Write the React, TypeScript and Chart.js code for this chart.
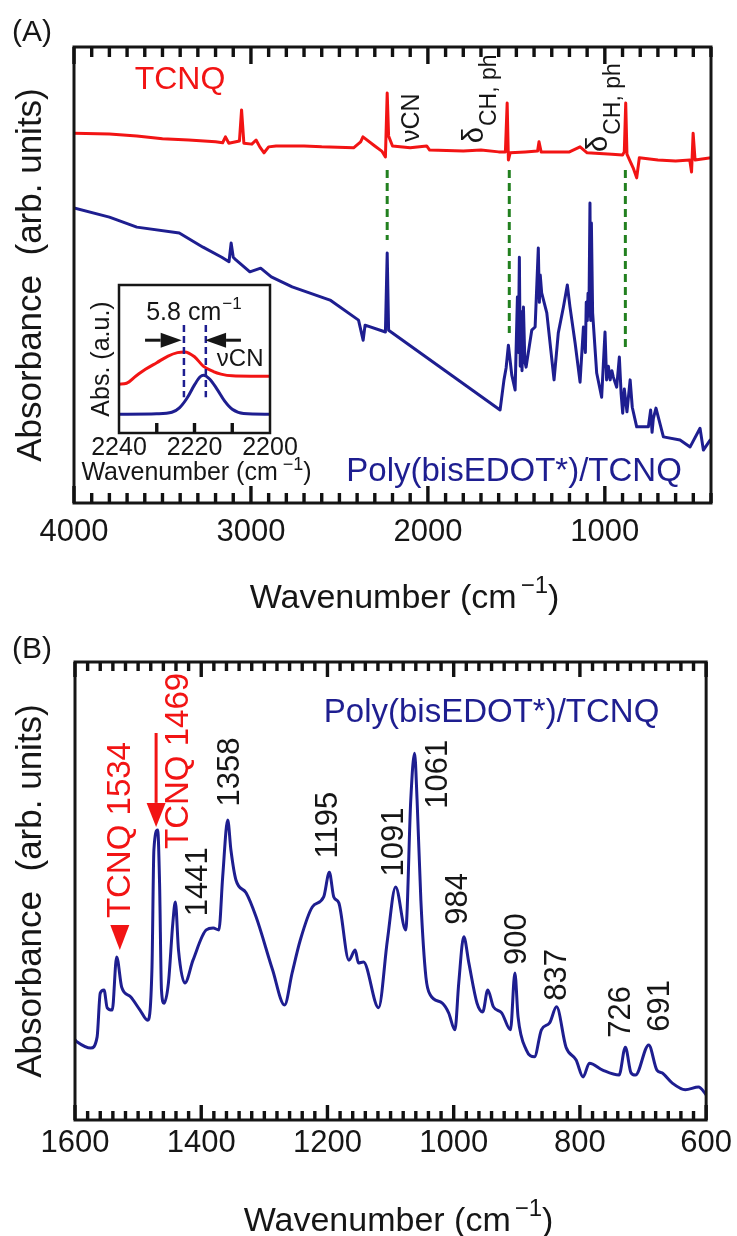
import React, { useEffect, useRef } from 'react';
import { Chart, registerables } from 'chart.js';

Chart.register(...registerables);

const FONT = '"Liberation Sans", Arial, Helvetica, sans-serif';
const INK = '#161616';
const RED = '#f21414';
const BLUE = '#1e1e90';
const GREEN = '#22801f';

// ---------- Panel (A): full range ----------
const tcnqWaveA = [4000, 3800, 3645, 3500, 3352, 3200, 3160, 3144, 3125, 3065, 3053, 3040, 2995, 2971, 2950, 2926, 2900, 2858, 2700, 2600, 2420, 2380, 2367, 2300, 2259, 2240, 2230, 2222, 2200, 2100, 2007, 1990, 1800, 1700, 1600, 1562, 1552, 1545, 1535, 1450, 1380, 1372, 1360, 1200, 1140, 1100, 960, 900, 890, 882, 875, 860, 840, 820, 805, 700, 600, 520, 510, 501, 490, 400];
const tcnqAbsA = [81.1, 80.9, 80.5, 79.9, 79.6, 79.2, 79.0, 80.3, 78.9, 79.4, 86.2, 78.9, 78.7, 79.6, 78.1, 76.8, 78.1, 78.3, 78.3, 78.1, 77.9, 79.2, 80.3, 78.3, 77.1, 75.9, 89.9, 80.5, 78.3, 77.9, 78.3, 77.4, 77.2, 77.4, 77.0, 77.0, 87.7, 75.2, 76.8, 77.0, 77.2, 79.2, 77.0, 77.0, 78.1, 76.8, 76.5, 76.3, 77.0, 87.7, 76.5, 75.2, 73.5, 71.3, 75.7, 75.2, 75.0, 75.2, 72.6, 81.1, 75.2, 75.7];
const polyWaveA = [4000, 3800, 3645, 3405, 3271, 3165, 3124, 3112, 3100, 3085, 3006, 2945, 2885, 2767, 2553, 2392, 2366, 2355, 2240, 2230, 2222, 1592, 1570, 1558, 1545, 1526, 1507, 1494, 1489, 1483, 1478, 1473, 1468, 1460, 1452, 1445, 1413, 1394, 1376, 1370, 1365, 1357, 1328, 1287, 1263, 1234, 1212, 1197, 1168, 1140, 1121, 1110, 1105, 1099, 1095, 1090, 1084, 1080, 1076, 1069, 1046, 1018, 999, 990, 980, 970, 960, 952, 933, 918, 908, 899, 890, 875, 857, 845, 820, 754, 741, 733, 726, 711, 669, 575, 518, 462, 443, 405];
const polyAbsA = [64.7, 62.7, 60.5, 59.2, 56.1, 53.9, 52.9, 57.0, 53.9, 53.3, 50.7, 51.5, 49.6, 47.4, 44.5, 40.1, 35.7, 39.0, 37.5, 54.8, 37.9, 20.4, 27.0, 29.6, 34.6, 28.1, 24.8, 45.2, 33.0, 53.9, 30.0, 42.0, 29.0, 43.0, 31.0, 29.8, 37.9, 38.6, 55.9, 44.0, 50.0, 46.1, 41.7, 27.0, 37.3, 43.0, 47.8, 43.0, 35.1, 26.5, 38.6, 33.0, 44.0, 40.0, 46.0, 41.0, 65.8, 40.0, 61.4, 41.7, 28.5, 23.2, 37.5, 27.0, 30.0, 27.0, 29.0, 27.6, 25.4, 32.0, 24.0, 19.7, 25.0, 20.0, 27.0, 21.0, 16.7, 16.7, 20.4, 15.5, 18.5, 20.8, 14.5, 13.8, 12.3, 16.4, 11.6, 13.8];
const tickValuesA = Array.from({ length: 37 }, (_, i) => 400 + i * 100); // tick marks every 100 cm-1

const markerWaveA = [2230, 1540, 884];
const markerFromA = [73.0, 73.0, 73.0];
const markerToA = [57.7, 37.3, 34.2];

const deltaWaveA = [1688, 988.5];
const deltaAbsA = [78.9, 77.0];

// ---------- Panel (B): fingerprint region ----------
const polyWaveB = [1600, 1597, 1575, 1565, 1560, 1554, 1549, 1541, 1534, 1526, 1512, 1497, 1485, 1478, 1475, 1469, 1466, 1463, 1459, 1452, 1445, 1441, 1436, 1426, 1413, 1392, 1381, 1372, 1366, 1358, 1353, 1345, 1329, 1313, 1287, 1268, 1256, 1243, 1224, 1206, 1197, 1190, 1182, 1166, 1156, 1151, 1143, 1119, 1105, 1092, 1076, 1068, 1062, 1058, 1052, 1044, 1037, 1018, 1008, 998, 992, 984, 976, 963, 954, 946, 937, 924, 910, 903, 898, 885, 872, 861, 848, 837, 822, 806, 795, 785, 764, 738, 728, 719, 712, 691, 678, 670, 654, 633, 612, 602, 600];
const polyAbsB = [17.5, 17.1, 15.7, 18.1, 27.7, 28.4, 24.5, 24.0, 35.6, 29.0, 26.9, 24.0, 21.8, 33.4, 59.0, 63.3, 51.7, 28.4, 25.5, 29.9, 43.0, 47.6, 37.1, 29.9, 34.9, 41.5, 41.9, 41.5, 53.1, 65.5, 59.0, 52.4, 49.6, 44.3, 32.8, 25.1, 32.1, 39.3, 46.5, 48.7, 54.1, 48.7, 47.4, 34.9, 37.1, 34.3, 34.5, 24.5, 39.3, 50.9, 41.5, 69.9, 80.1, 69.9, 48.0, 31.2, 27.3, 25.5, 23.4, 19.7, 29.9, 40.0, 34.3, 25.5, 23.6, 28.4, 24.7, 23.4, 19.7, 32.1, 22.5, 15.3, 13.8, 19.7, 21.2, 24.7, 15.9, 13.1, 9.4, 12.4, 10.9, 9.8, 15.9, 10.3, 9.8, 16.4, 10.9, 10.3, 8.1, 6.6, 7.2, 5.9, 5.5];
const tickValuesB = Array.from({ length: 51 }, (_, i) => 600 + i * 20); // tick marks every 20 cm-1

const peakText = ['1441', '1358', '1195', '1091', '1061', '984', '900', '837', '726', '691'];
const peakTextWave = [1405, 1354, 1198, 1094, 1024.5, 992, 899.5, 835, 734, 672];
const peakTextAbs = [52.0, 76.0, 64.4, 60.7, 75.5, 48.3, 39.5, 31.7, 23.6, 24.9];

const tcnqMarkText = ['TCNQ 1534', 'TCNQ 1469'];
const tcnqMarkTextWave = [1527, 1435];
const tcnqMarkTextAbs = [63.3, 78.4];

// ---------- Inset: nu(CN) band ----------
const insetTcnqWave = [2240, 2238, 2235.5, 2233, 2230, 2227, 2224.5, 2222.6, 2220, 2217.6, 2215, 2213, 2210, 2205, 2200];
const insetTcnqAbs = [33.0, 33.6, 38.5, 43.0, 47.5, 52.0, 54.3, 54.8, 51.5, 45.0, 41.5, 39.8, 38.6, 38.4, 38.4];
const insetPolyWave = [2240, 2230, 2226, 2224, 2222, 2220, 2218.5, 2217.6, 2216, 2214, 2212, 2210, 2207, 2200];
const insetPolyAbs = [12.7, 13.0, 14.0, 17.0, 23.5, 32.5, 38.0, 39.1, 36.5, 29.5, 21.5, 16.0, 13.2, 12.7];
const insetPeakWave = [2222.8, 2217.0];
const tickValuesInset = [2210, 2220, 2230];

const pairs = (xs: number[], ys: number[]) => xs.map((x, i) => ({ x, y: ys[i] }));

function drawText(ctx: CanvasRenderingContext2D, s: string, x: number, y: number, size: number, color: string, rot = 0, align: CanvasTextAlign = 'center') {
  ctx.save();
  ctx.font = `${size}px ${FONT}`;
  ctx.fillStyle = color;
  ctx.textAlign = align;
  ctx.textBaseline = 'middle';
  ctx.translate(x, y);
  if (rot) ctx.rotate(rot);
  ctx.fillText(s, 0, 0);
  ctx.restore();
}

function drawSupText(ctx: CanvasRenderingContext2D, main: string, sup: string, tail: string, cx: number, baseline: number, size: number, supSize: number, raise: number, gap: number) {
  ctx.save();
  ctx.fillStyle = INK;
  ctx.textAlign = 'left';
  ctx.textBaseline = 'alphabetic';
  ctx.font = `${size}px ${FONT}`;
  const wm = ctx.measureText(main).width;
  const wt = ctx.measureText(tail).width;
  ctx.font = `${supSize}px ${FONT}`;
  const ws = ctx.measureText(sup).width;
  const x0 = cx - (wm + gap + ws + wt) / 2;
  ctx.font = `${size}px ${FONT}`;
  ctx.fillText(main, x0, baseline);
  ctx.font = `${supSize}px ${FONT}`;
  ctx.fillText(sup, x0 + wm + gap, baseline - raise);
  ctx.font = `${size}px ${FONT}`;
  ctx.fillText(tail, x0 + wm + gap + ws, baseline);
  ctx.restore();
}

// Inward tick marks positioned through the x scale.
function drawTicks(chart: any, values: number[], major: number, majorLen: number, minorLen: number, top: boolean) {
  const ctx: CanvasRenderingContext2D = chart.ctx;
  const area = chart.chartArea;
  const scale = chart.scales.x;
  ctx.save();
  ctx.fillStyle = '#111111';
  for (let i = 0; i < values.length; i++) {
    const v = values[i];
    const px = scale.getPixelForValue(v);
    const len = v % major === 0 ? majorLen : minorLen;
    ctx.fillRect(px - 1.7, area.bottom - len, 3.4, len);
    if (top) ctx.fillRect(px - 1.7, area.top, 3.4, len);
  }
  ctx.restore();
}

function drawBox(chart: any, frameWidth: number) {
  const ctx: CanvasRenderingContext2D = chart.ctx;
  const area = chart.chartArea;
  ctx.save();
  ctx.strokeStyle = INK;
  ctx.lineWidth = frameWidth;
  ctx.strokeRect(area.left, area.top, area.right - area.left, area.bottom - area.top);
  ctx.restore();
}

function xScale(min: number, max: number, step: number, labelEvery: number, size: number, pad: number, height: number) {
  return {
    type: 'linear',
    min,
    max,
    reverse: true,
    afterFit: (s: any) => { s.height = height; },
    grid: { display: false, drawTicks: false, tickLength: 0 },
    border: { display: false },
    ticks: {
      stepSize: step,
      autoSkip: false,
      maxRotation: 0,
      minRotation: 0,
      padding: pad,
      color: INK,
      font: { family: FONT, size },
      callback: (v: any) => (Math.round(Number(v)) % labelEvery === 0 ? String(Math.round(Number(v))) : ''),
    },
  };
}

function yScale(width: number, text: string, size: number, padTop: number) {
  return {
    type: 'linear',
    min: 0,
    max: 100,
    afterFit: (s: any) => { s.width = width; },
    ticks: { display: false },
    grid: { display: false, drawTicks: false },
    border: { display: false },
    title: { display: true, text, color: INK, font: { family: FONT, size }, padding: { top: padTop, bottom: 0 } },
  };
}

function line(data: { x: number; y: number }[], color: string, width: number, smooth = false) {
  return {
    data,
    borderColor: color,
    borderWidth: width,
    pointRadius: 0,
    fill: false,
    tension: 0,
    cubicInterpolationMode: smooth ? 'monotone' : 'default',
    borderJoinStyle: 'round',
    borderCapStyle: 'round',
  };
}

const baseOptions = {
  responsive: false,
  animation: false,
  devicePixelRatio: 1,
  events: [],
  plugins: { legend: { display: false }, tooltip: { enabled: false }, title: { display: false } },
};

function vArrow(ctx: CanvasRenderingContext2D, x: number, yFrom: number, yTip: number, head: number, half: number, color: string, lw: number) {
  const dir = Math.sign(yTip - yFrom);
  ctx.save();
  ctx.strokeStyle = color;
  ctx.fillStyle = color;
  ctx.lineWidth = lw;
  ctx.beginPath();
  ctx.moveTo(x, yFrom);
  ctx.lineTo(x, yTip - dir * head);
  ctx.stroke();
  ctx.beginPath();
  ctx.moveTo(x, yTip);
  ctx.lineTo(x - half, yTip - dir * head);
  ctx.lineTo(x + half, yTip - dir * head);
  ctx.closePath();
  ctx.fill();
  ctx.restore();
}

function hArrow(ctx: CanvasRenderingContext2D, xFrom: number, xTip: number, y: number, head: number, half: number, color: string, lw: number) {
  const dir = Math.sign(xTip - xFrom);
  ctx.save();
  ctx.strokeStyle = color;
  ctx.fillStyle = color;
  ctx.lineWidth = lw;
  ctx.beginPath();
  ctx.moveTo(xFrom, y);
  ctx.lineTo(xTip - dir * head, y);
  ctx.stroke();
  ctx.beginPath();
  ctx.moveTo(xTip, y);
  ctx.lineTo(xTip - dir * head, y - half);
  ctx.lineTo(xTip - dir * head, y + half);
  ctx.closePath();
  ctx.fill();
  ctx.restore();
}

const decorA = {
  id: 'decorA',
  afterDatasetsDraw(chart: any) {
    const { ctx } = chart;
    const X = (w: number) => chart.scales.x.getPixelForValue(w);
    const Y = (v: number) => chart.scales.y.getPixelForValue(v);
    ctx.save();
    ctx.strokeStyle = GREEN;
    ctx.lineWidth = 3;
    ctx.setLineDash([8, 5]);
    markerWaveA.forEach((w, i) => {
      ctx.beginPath();
      ctx.moveTo(X(w), Y(markerFromA[i]));
      ctx.lineTo(X(w), Y(markerToA[i]));
      ctx.stroke();
    });
    ctx.restore();

    drawText(ctx, 'TCNQ', X(3401), Y(92.7), 32, RED);
    drawText(ctx, '\u03bdCN', X(2092), Y(84.5), 25, INK, -Math.PI / 2);
    deltaWaveA.forEach((w, i) => {
      ctx.save();
      ctx.translate(X(w), Y(deltaAbsA[i]));
      ctx.rotate(-Math.PI / 2);
      ctx.fillStyle = INK;
      ctx.textAlign = 'left';
      ctx.textBaseline = 'alphabetic';
      ctx.font = `29px ${FONT}`;
      ctx.fillText('\u03b4', 0, 0);
      const wd = ctx.measureText('\u03b4').width;
      ctx.font = `23px ${FONT}`;
      ctx.fillText('CH, ph', wd + 1, 13);
      ctx.restore();
    });
    drawText(ctx, 'Poly(bisEDOT*)/TCNQ', X(1513), Y(6.8), 33, BLUE);
  },
  afterDraw(chart: any) {
    const { ctx, chartArea: a } = chart;
    drawBox(chart, 3);
    drawTicks(chart, tickValuesA, 1000, 17, 10, true);
    drawText(ctx, '(A)', a.left - 42, a.top - 14, 30, INK);
    drawSupText(ctx, 'Wavenumber (cm', '\u22121', ')', (a.left + a.right) / 2 + 12, a.bottom + 105, 34, 24, 15, 4);
  },
};

const decorB = {
  id: 'decorB',
  afterDatasetsDraw(chart: any) {
    const { ctx } = chart;
    const X = (w: number) => chart.scales.x.getPixelForValue(w);
    const Y = (v: number) => chart.scales.y.getPixelForValue(v);
    peakText.forEach((t, i) => drawText(ctx, t, X(peakTextWave[i]), Y(peakTextAbs[i]), 31, INK, -Math.PI / 2));
    tcnqMarkText.forEach((t, i) => drawText(ctx, t, X(tcnqMarkTextWave[i]), Y(tcnqMarkTextAbs[i]), 33, RED, -Math.PI / 2));
    const tx = X(1529);
    const ty = Y(37.1);
    ctx.save();
    ctx.fillStyle = RED;
    ctx.beginPath();
    ctx.moveTo(tx, ty);
    ctx.lineTo(tx - 9.5, ty - 25);
    ctx.lineTo(tx + 9.5, ty - 25);
    ctx.closePath();
    ctx.fill();
    ctx.restore();
    vArrow(ctx, X(1471.5), Y(84.5), Y(64.0), 24, 9.5, RED, 3);
    drawText(ctx, 'Poly(bisEDOT*)/TCNQ', X(940), Y(88.9), 33, BLUE);
  },
  afterDraw(chart: any) {
    const { ctx, chartArea: a } = chart;
    drawBox(chart, 3);
    drawTicks(chart, tickValuesB, 200, 15, 9, true);
    drawText(ctx, '(B)', a.left - 43, a.top - 12, 30, INK);
    drawSupText(ctx, 'Wavenumber (cm', '\u22121', ')', (a.left + a.right) / 2 + 8, a.bottom + 111, 34, 24, 15, 4);
  },
};

const decorInset = {
  id: 'decorInset',
  beforeDatasetsDraw(chart: any) {
    const { ctx, chartArea: a } = chart;
    ctx.save();
    ctx.fillStyle = '#ffffff';
    ctx.fillRect(a.left, a.top, a.right - a.left, a.bottom - a.top);
    ctx.restore();
  },
  afterDatasetsDraw(chart: any) {
    const { ctx } = chart;
    const X = (w: number) => chart.scales.x.getPixelForValue(w);
    const Y = (v: number) => chart.scales.y.getPixelForValue(v);
    ctx.save();
    ctx.strokeStyle = BLUE;
    ctx.lineWidth = 2.5;
    ctx.setLineDash([7, 4]);
    insetPeakWave.forEach((w) => {
      ctx.beginPath();
      ctx.moveTo(X(w), Y(72.9));
      ctx.lineTo(X(w), Y(24.2));
      ctx.stroke();
    });
    ctx.restore();
    hArrow(ctx, X(2233.1), X(2223.4), Y(62.7), 21, 7.5, INK, 3);
    hArrow(ctx, X(2207.7), X(2217.2), Y(62.7), 21, 7.5, INK, 3);
    ctx.save();
    ctx.fillStyle = INK;
    ctx.textAlign = 'left';
    ctx.textBaseline = 'middle';
    ctx.font = `25px ${FONT}`;
    const x0 = X(2232.8);
    const y0 = Y(81.0);
    ctx.fillText('5.8 cm', x0, y0);
    const w0 = ctx.measureText('5.8 cm').width;
    ctx.font = `17px ${FONT}`;
    ctx.fillText('\u22121', x0 + w0 + 1, y0 - 9);
    ctx.restore();
    drawText(ctx, '\u03bdCN', X(2207.9), Y(49.9), 24, INK);
  },
  afterDraw(chart: any) {
    const { ctx, chartArea: a } = chart;
    drawBox(chart, 2.5);
    drawTicks(chart, tickValuesInset, 10, 10, 10, false);
    drawSupText(ctx, 'Wavenumber (cm', '\u22121', ')', (a.left + a.right) / 2 + 2, a.bottom + 47, 25, 18, 10, 5);
  },
};

function configA(): any {
  return {
    type: 'line',
    data: {
      datasets: [
        line(pairs(tcnqWaveA, tcnqAbsA), RED, 3),
        line(pairs(polyWaveA, polyAbsA), BLUE, 3),
      ],
    },
    options: {
      ...baseOptions,
      layout: { padding: { left: 0, top: 47, right: 26, bottom: 0 } },
      scales: {
        x: xScale(400, 4000, 100, 1000, 31, 11, 117),
        y: yScale(74, 'Absorbance  (arb. units)', 35, 10),
      },
    },
    plugins: [decorA],
  };
}

function configB(): any {
  return {
    type: 'line',
    data: { datasets: [line(pairs(polyWaveB, polyAbsB), BLUE, 3, true)] },
    options: {
      ...baseOptions,
      layout: { padding: { left: 0, top: 42, right: 26, bottom: 0 } },
      scales: {
        x: xScale(600, 1600, 20, 200, 31, 5, 116),
        y: yScale(75, 'Absorbance  (arb. units)', 35, 10),
      },
    },
    plugins: [decorB],
  };
}

function configInset(): any {
  return {
    type: 'line',
    data: {
      datasets: [
        line(pairs(insetTcnqWave, insetTcnqAbs), RED, 3, true),
        line(pairs(insetPolyWave, insetPolyAbs), BLUE, 3, true),
      ],
    },
    options: {
      ...baseOptions,
      layout: { padding: { left: 0, top: 15, right: 70, bottom: 0 } },
      scales: {
        x: xScale(2200, 2240, 10, 20, 25, 0, 52),
        y: yScale(59, 'Abs. (a.u.)', 25, 27),
      },
    },
    plugins: [decorInset],
  };
}

export default function App() {
  const refA = useRef<HTMLCanvasElement>(null);
  const refB = useRef<HTMLCanvasElement>(null);
  const refI = useRef<HTMLCanvasElement>(null);

  useEffect(() => {
    const charts: Chart[] = [];
    if (refA.current) charts.push(new Chart(refA.current, configA()));
    if (refB.current) charts.push(new Chart(refB.current, configB()));
    if (refI.current) charts.push(new Chart(refI.current, configInset()));
    return () => charts.forEach((c) => c.destroy());
  }, []);

  return (
    <div style={{ position: 'absolute', left: 0, top: 0, width: 737, height: 1236, background: '#ffffff' }}>
      <canvas ref={refA} width={737} height={620} style={{ position: 'absolute', left: 0, top: 0 }} />
      <canvas ref={refB} width={737} height={616} style={{ position: 'absolute', left: 0, top: 620 }} />
      <canvas ref={refI} width={280} height={215} style={{ position: 'absolute', left: 60, top: 270 }} />
    </div>
  );
}
